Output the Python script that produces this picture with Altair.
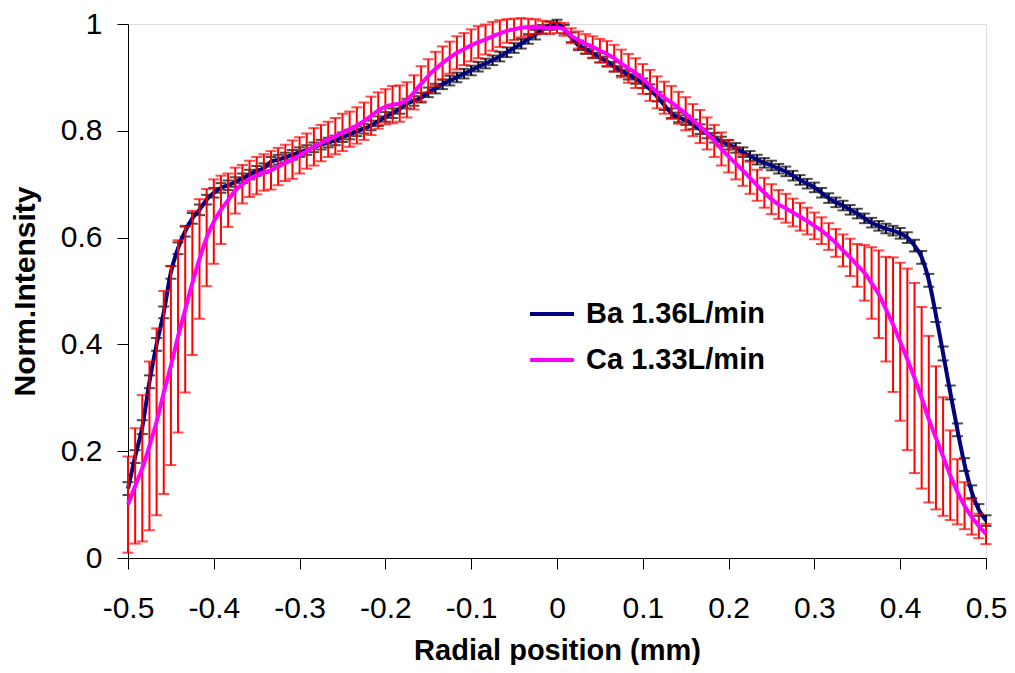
import altair as alt
import numpy as np
import pandas as pd

# radial positions (mm), 121 sample points across the plot
x_pos = np.round(np.linspace(-0.5, 0.5, 121), 5)

# Ba 1.36 L/min normalised intensity
ba_vals = [
    0.13, 0.19, 0.245, 0.33, 0.40, 0.46, 0.535, 0.58, 0.612, 0.636,
    0.652, 0.671, 0.684, 0.693, 0.698, 0.704, 0.711, 0.718, 0.725, 0.73,
    0.742, 0.746, 0.75, 0.755, 0.76, 0.764, 0.769, 0.774, 0.778, 0.782,
    0.788, 0.793, 0.799, 0.804, 0.81, 0.818, 0.826, 0.833, 0.841, 0.851,
    0.856, 0.862, 0.872, 0.879, 0.887, 0.894, 0.9, 0.907, 0.913, 0.92,
    0.926, 0.932, 0.939, 0.947, 0.955, 0.963, 0.972, 0.98, 0.99, 0.997,
    1.0, 0.99, 0.975, 0.96, 0.953, 0.945, 0.937, 0.93, 0.92, 0.912,
    0.905, 0.897, 0.889, 0.878, 0.864, 0.848, 0.833, 0.825, 0.82, 0.812,
    0.803, 0.795, 0.787, 0.78, 0.774, 0.768, 0.76, 0.753, 0.746, 0.74,
    0.735, 0.729, 0.724, 0.716, 0.708, 0.701, 0.694, 0.684, 0.674, 0.666,
    0.66, 0.652, 0.645, 0.636, 0.628, 0.622, 0.617, 0.613, 0.608, 0.6,
    0.585, 0.563, 0.52, 0.455, 0.383, 0.31, 0.24, 0.175, 0.124, 0.09,
    0.07,
]
ba_err = [
    0.012, 0.012, 0.013, 0.012, 0.012, 0.011, 0.012, 0.011, 0.01, 0.01,
    0.01, 0.009, 0.009, 0.009, 0.009, 0.009, 0.009, 0.009, 0.009, 0.009,
    0.009, 0.009, 0.009, 0.009, 0.009, 0.009, 0.009, 0.009, 0.009, 0.009,
    0.009, 0.009, 0.009, 0.009, 0.009, 0.009, 0.009, 0.009, 0.009, 0.009,
    0.009, 0.009, 0.009, 0.009, 0.009, 0.009, 0.009, 0.009, 0.009, 0.009,
    0.009, 0.009, 0.009, 0.009, 0.009, 0.009, 0.009, 0.009, 0.008, 0.008,
    0.008, 0.008, 0.009, 0.009, 0.009, 0.009, 0.009, 0.009, 0.009, 0.009,
    0.009, 0.009, 0.009, 0.009, 0.009, 0.009, 0.009, 0.009, 0.009, 0.009,
    0.009, 0.009, 0.009, 0.009, 0.009, 0.009, 0.009, 0.009, 0.009, 0.009,
    0.009, 0.009, 0.009, 0.009, 0.009, 0.009, 0.009, 0.009, 0.009, 0.009,
    0.009, 0.009, 0.009, 0.009, 0.009, 0.009, 0.009, 0.009, 0.01, 0.01,
    0.011, 0.012, 0.012, 0.013, 0.013, 0.013, 0.012, 0.012, 0.012, 0.011,
    0.01,
]

# Ca 1.33 L/min normalised intensity
ca_vals = [
    0.10, 0.135, 0.168, 0.21, 0.255, 0.31, 0.36, 0.415, 0.465, 0.515,
    0.56, 0.60, 0.63, 0.652, 0.67, 0.688, 0.70, 0.71, 0.716, 0.722,
    0.726, 0.733, 0.74, 0.746, 0.754, 0.762, 0.77, 0.777, 0.784, 0.79,
    0.797, 0.803, 0.81, 0.818, 0.828, 0.838, 0.845, 0.849, 0.851, 0.858,
    0.872, 0.888, 0.903, 0.916, 0.927, 0.937, 0.946, 0.953, 0.96, 0.966,
    0.971, 0.977, 0.982, 0.987, 0.99, 0.993, 0.994, 0.995, 0.994, 0.992,
    0.993, 0.99, 0.978, 0.97, 0.963, 0.957, 0.95, 0.944, 0.936, 0.926,
    0.917, 0.908, 0.897, 0.885, 0.872, 0.862, 0.853, 0.843, 0.832, 0.82,
    0.808, 0.795, 0.781, 0.766, 0.752, 0.739, 0.726, 0.712, 0.698, 0.684,
    0.672, 0.662, 0.655, 0.647, 0.639, 0.631, 0.622, 0.613, 0.602, 0.59,
    0.576, 0.563, 0.548, 0.534, 0.515, 0.494, 0.466, 0.437, 0.405, 0.372,
    0.337, 0.3, 0.26, 0.225, 0.19, 0.155, 0.124, 0.098, 0.077, 0.06,
    0.045,
]
ca_err = [
    0.09, 0.108, 0.137, 0.158, 0.175, 0.19, 0.186, 0.18, 0.155, 0.135,
    0.112, 0.091, 0.079, 0.064, 0.05, 0.043, 0.036, 0.034, 0.035, 0.034,
    0.036, 0.035, 0.034, 0.036, 0.034, 0.033, 0.035, 0.034, 0.033, 0.034,
    0.035, 0.033, 0.034, 0.035, 0.036, 0.034, 0.033, 0.035, 0.034, 0.033,
    0.032, 0.033, 0.031, 0.032, 0.031, 0.03, 0.031, 0.03, 0.03, 0.03,
    0.028, 0.027, 0.025, 0.022, 0.02, 0.018, 0.016, 0.014, 0.012, 0.011,
    0.01, 0.012, 0.014, 0.016, 0.018, 0.02, 0.022, 0.024, 0.025, 0.026,
    0.027, 0.028, 0.028, 0.029, 0.03, 0.03, 0.031, 0.03, 0.031, 0.03,
    0.031, 0.03, 0.03, 0.031, 0.03, 0.03, 0.029, 0.03, 0.029, 0.028,
    0.028, 0.027, 0.027, 0.026, 0.026, 0.025, 0.025, 0.025, 0.025, 0.026,
    0.03, 0.035, 0.04, 0.052, 0.067, 0.082, 0.098, 0.126, 0.148, 0.17,
    0.178, 0.17, 0.156, 0.134, 0.111, 0.084, 0.061, 0.044, 0.033, 0.023,
    0.019,
]

series_names = ["Ba 1.36L/min", "Ca 1.33L/min"]
line_colors = ["#000080", "#FF00FF"]
err_colors = ["#000000", "#FF0000"]

x_ticks = [-0.5, -0.4, -0.3, -0.2, -0.1, 0.0, 0.1, 0.2, 0.3, 0.4, 0.5]
y_ticks = [0, 0.2, 0.4, 0.6, 0.8, 1.0]


def frame(vals, errs, name):
    d = pd.DataFrame({"x": x_pos, "v": vals, "e": errs})
    d["lo"] = d["v"] - d["e"]
    d["hi"] = d["v"] + d["e"]
    d["series"] = name
    return d


ba_df = frame(ba_vals, ba_err, series_names[0])
ca_df = frame(ca_vals, ca_err, series_names[1])

FONT = "Liberation Sans"

xs = alt.Scale(domain=[-0.5, 0.5], nice=False, zero=False)
ys = alt.Scale(domain=[0, 1], nice=False)

x_axis = alt.Axis(
    values=x_ticks,
    labelExpr="datum.value == 0 ? '0' : (datum.value < 0 ? '-' + format(-datum.value, '.1f') : format(datum.value, '.1f'))",
    title="Radial position (mm)",
    labelFontSize=30, labelFont=FONT, labelColor="black", labelPadding=24,
    titleFontSize=29, titleFont=FONT, titleFontWeight="bold", titleColor="black",
    titleBaseline="alphabetic", titleY=101,
    tickSize=11, tickColor="black", tickWidth=1, domainColor="black", domainWidth=1,
    grid=False, labelFlush=False, labelOverlap=False,
)
y_axis = alt.Axis(
    values=y_ticks,
    labelExpr="datum.value == 0 ? '0' : (datum.value == 1 ? '1' : format(datum.value, '.1f'))",
    title="Norm.Intensity",
    labelFontSize=30, labelFont=FONT, labelColor="black", labelPadding=15,
    titleFontSize=30, titleFont=FONT, titleFontWeight="bold", titleColor="black",
    titleBaseline="alphabetic", titleX=-94, titleAngle=-90,
    tickSize=11, tickColor="black", tickWidth=1, domainColor="black", domainWidth=1,
    grid=False, labelFlush=False, labelOverlap=False,
)


def err_layers(df, color, cap):
    base = alt.Chart(df)
    rule = base.mark_rule(color=color, strokeWidth=2).encode(
        x=alt.X("x:Q", scale=xs, axis=x_axis),
        y=alt.Y("lo:Q", scale=ys, axis=y_axis),
        y2="hi:Q",
    )
    top = base.mark_tick(color=color, thickness=2, size=cap, orient="horizontal").encode(
        x=alt.X("x:Q", scale=xs), y=alt.Y("hi:Q", scale=ys)
    )
    bot = base.mark_tick(color=color, thickness=2, size=cap, orient="horizontal").encode(
        x=alt.X("x:Q", scale=xs), y=alt.Y("lo:Q", scale=ys)
    )
    return rule + top + bot


color_enc = alt.Color(
    "series:N",
    scale=alt.Scale(domain=series_names, range=line_colors),
    legend=alt.Legend(
        title=None, orient="none", legendX=400, legendY=266, padding=0,
        symbolType="stroke", symbolSize=1936, symbolStrokeWidth=4,
        labelFontSize=29, labelFont=FONT, labelFontWeight="bold", labelColor="black",
        labelOffset=10, rowPadding=7, labelBaseline="middle", labelLimit=500,
    ),
)


def line_layer(df, width):
    return alt.Chart(df).mark_line(strokeWidth=width, interpolate="monotone").encode(
        x=alt.X("x:Q", scale=xs), y=alt.Y("v:Q", scale=ys), color=color_enc
    )


chart = alt.layer(
    err_layers(ba_df, err_colors[0], 11),
    line_layer(ba_df, 4),
    err_layers(ca_df, err_colors[1], 11),
    line_layer(ca_df, 4),
).properties(
    width=858, height=534,
    autosize=alt.AutoSizeParams(type="none"),
    padding={"left": 120, "top": 16, "right": 21, "bottom": 107},
).configure_view(stroke=None).configure(background="white")

chart.save("out.html", embed_options={"renderer": "svg", "actions": False})
